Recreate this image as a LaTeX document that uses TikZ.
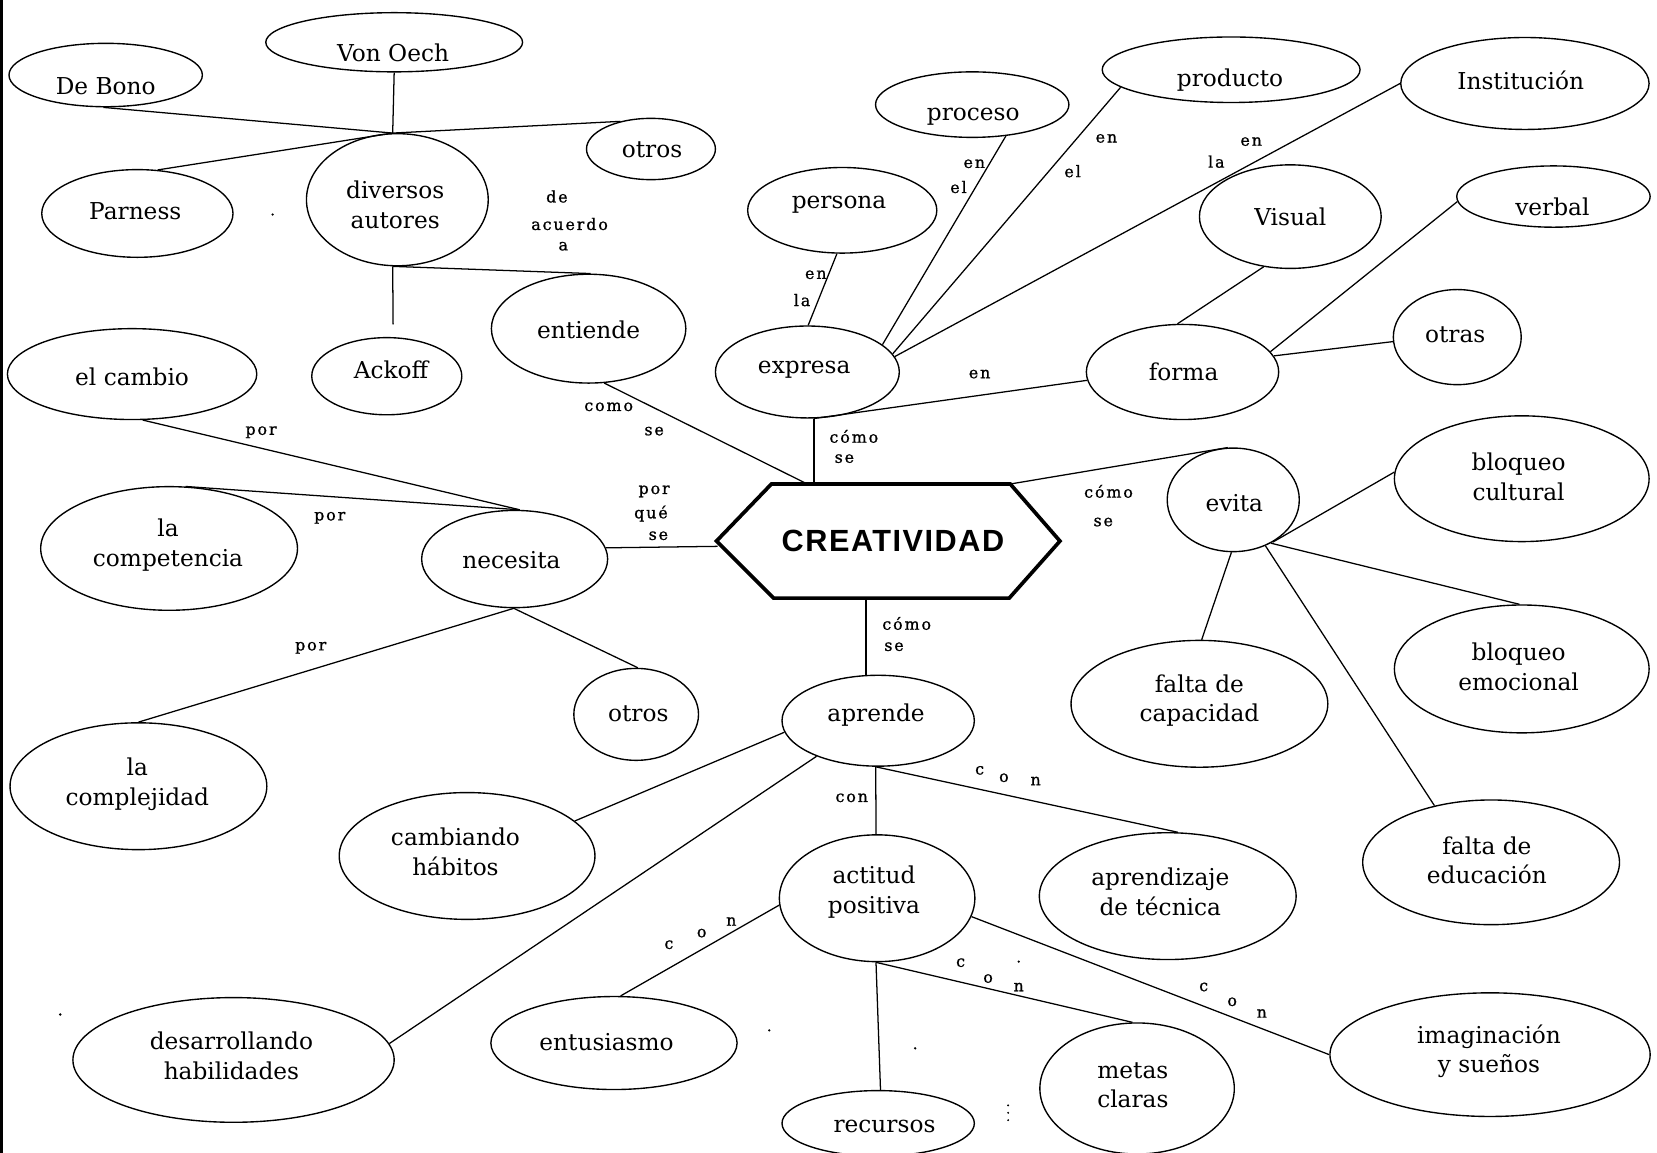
\documentclass[tikz,border=0pt]{standalone}
\usepackage{fontspec}
\setmainfont{DejaVu Serif}
\newfontfamily\labfont[LetterSpace=12,FakeBold=1]{DejaVu Serif}
\newfontfamily\titlefont[LetterSpace=5]{Liberation Sans}
\usetikzlibrary{shapes.geometric,calc}

% \bub{name}{cx}{cy}{width}{height}{text x}{text y}{text}
\newcommand\bub[8]{%
  \node[bubble,minimum width=#4pt,minimum height=#5pt] (#1) at (#2,#3) {};
  \node[word] (#1-t) at (#6,#7) {#8};}

\begin{document}
\begin{tikzpicture}[x=1pt,y=-1pt,
  bubble/.style={draw,ellipse,inner sep=0pt,line width=1.3pt},
  word/.style={font=\fontsize{22}{28}\selectfont,align=center,inner sep=0pt},
  lab/.style={font=\labfont\fontsize{15}{18}\selectfont,inner sep=0pt},
  link/.style={line width=1.2pt},
  speck/.style={fill=black}]
\useasboundingbox (0,0) rectangle (1568,1091);

% left margin rule
\draw[line width=2.4pt] (1.2,0) -- (1.2,1091);

% ---------- concept bubbles ----------
\bub{vonoech}{373}{40}{243}{56}{372}{50}{Von Oech}
\bub{debono}{100}{71}{183}{60}{100}{82}{De Bono}
\bub{otrosA}{616}{141}{122}{58}{617}{142}{otros}
\bub{parness}{130}{202}{181}{83}{128}{200}{Parness}
\bub{diversos}{376}{189}{172}{125}{374}{194}{diversos\\autores}
\bub{ackoff}{366}{356}{142}{73}{370}{350}{Ackoff}
\bub{entiende}{557}{311}{184}{103}{557}{312}{entiende}
\bub{cambio}{125}{354}{236}{86}{125}{357}{el cambio}
\bub{proceso}{920}{99}{183}{62}{921}{110}{proceso}
\bub{producto}{1165}{66}{244}{62}{1164}{76}{producto}
\bub{institucion}{1443}{79}{235}{87}{1439}{76}{Institución}
\bub{persona}{797}{199}{179}{81}{794}{194}{persona}
\bub{visual}{1221}{205}{172}{98}{1221}{205}{Visual}
\bub{verbal}{1470}{186}{183}{58}{1469}{196}{verbal}
\bub{otras}{1379}{319}{121}{90}{1377}{317}{otras}
\bub{expresa}{764}{352}{174}{87}{761}{350}{expresa}
\bub{forma}{1119}{352}{182}{90}{1120}{352}{forma}
\bub{evita}{1167}{473}{125}{98}{1168}{476}{evita}
\bub{bcultural}{1440}{453}{241}{119}{1437}{451}{bloqueo\\cultural}
\bub{necesita}{487}{529}{176}{92}{484}{530}{necesita}
\bub{competencia}{160}{519}{243}{117}{159}{516}{la\\competencia}
\bub{otrosB}{602}{676}{118}{87}{604}{675}{otros}
\bub{complejidad}{131}{744}{243}{120}{130}{742}{la\\complejidad}
\bub{aprende}{831}{682}{182}{86}{829}{677}{aprende}
\bub{fcapacidad}{1135}{666}{243}{120}{1135}{663}{falta de\\capacidad}
\bub{bemocional}{1440}{633}{241}{121}{1437}{631}{bloqueo\\emocional}
\bub{feducacion}{1411}{816}{243}{118}{1407}{814}{falta de\\educación}
\bub{cambiando}{442}{810}{242}{120}{431}{806}{cambiando\\hábitos}
\bub{actitud}{830}{850}{185}{120}{827}{844}{actitud\\positiva}
\bub{aprendizaje}{1105}{848}{243}{120}{1098}{844}{aprendizaje\\de técnica}
\bub{imaginacion}{1410}{998}{303}{117}{1409}{995}{imaginación\\y sueños}
\bub{desarrollando}{221}{1003}{304}{118}{219}{999}{desarrollando\\habilidades}
\bub{entusiasmo}{581}{987}{233}{88}{574}{986}{entusiasmo}
\bub{recursos}{831}{1063}{182}{62}{837}{1066}{recursos}
\bub{metas}{1076}{1030}{184}{124}{1072}{1027}{metas\\claras}

% ---------- central hexagon ----------
\node[font=\titlefont\bfseries\fontsize{29}{32}\selectfont,inner sep=0pt] (crea) at (845,512) {CREATIVIDAD};
\coordinate (hx1) at ($(crea)+(-167,0)$);
\coordinate (hx2) at ($(crea)+(-115,-54)$);
\coordinate (hx3) at ($(crea)+(111,-54)$);
\coordinate (hx4) at ($(crea)+(158,0)$);
\coordinate (hx5) at ($(crea)+(110,54)$);
\coordinate (hx6) at ($(crea)+(-113,54)$);
\draw[line width=3.5pt,line join=miter] (hx1) -- (hx2) -- (hx3) -- (hx4) -- (hx5) -- (hx6) -- cycle;
\coordinate (hxA) at ($(hx2)!0.15!(hx3)$);
\coordinate (hxN) at ($(hx1)+(1,5)$);

% ---------- connectors ----------
\draw[link] (debono.-94) -- (diversos.94);
\draw[link] (vonoech.south) -- (diversos.94);
\draw[link] (otrosA.138) -- (diversos.94);
\draw[link] (parness.65) -- (diversos.94);
\coordinate (ackTop) at ($(ackoff.north)+(6,-12)$);
\draw[link] (diversos.-94) -- (ackTop);
\draw[link] (diversos.-94) -- (entiende.88);
\draw[link] (entiende.-74) -- (hxA);

\coordinate (expB) at (expresa.-82);
\draw[link] (expB) -- (expB |- hx2);
\draw[link] (persona.-97) -- (expresa.89);
\draw[link] (proceso.-43) -- (expresa.20);
\draw[link] (producto.-171) -- (expresa.12);
\draw[link] (institucion.180) -- (expresa.10);
\draw[link] (expB) -- (forma.-175);
\draw[link] (visual.-118) -- (forma.96);
\draw[link] (verbal.183) -- (forma.13);
\draw[link] (otras.184) -- (forma.10);

\draw[link] (hx3) -- (evita.96);
\draw[link] (evita.-47) -- (bcultural.177);
\draw[link] (evita.-49) -- (bemocional.92);
\draw[link] (evita.-55) -- (feducacion.135);
\draw[link] (evita.-92) -- (fcapacidad.88);

\draw[link] (hxN) -- (necesita.7);
\draw[link] (cambio.-77) -- (necesita.84);
\draw[link] (competencia.75) -- (necesita.84);
\draw[link] (necesita.-91) -- (otrosB.88);
\draw[link] (necesita.-91) -- (complejidad.90);

\draw[link] (aprende.105 |- hx5) -- (aprende.105);
\draw[link] (aprende.-173) -- (cambiando.18);
\draw[link] (aprende.-150) -- (desarrollando.6);
\draw[link] (aprende.-93) -- (actitud.91);
\draw[link] (aprende.-93) -- (aprendizaje.81);
\draw[link] (actitud.-176) -- (entusiasmo.82);
\draw[link] (actitud.-91) -- (recursos.86);
\draw[link] (actitud.-91) -- (metas.94);
\draw[link] (actitud.-11) -- (imaginacion.180);

% ---------- linking words ----------
\node[lab] (l1) at (527,186) {de};
\node[lab] (l2) at (539,212) {acuerdo};
\node[lab] (l3) at (533,233) {a};
\node[lab] (l4) at (576,385) {como};
\node[lab] (l5) at (619,408) {se};
\node[lab] (l6) at (808,413) {cómo};
\node[lab] (l7) at (799,434) {se};
\node[lab] (l8) at (772,260) {en};
\node[lab] (l9) at (759,284) {la};
\node[lab] (l10) at (922,155) {en};
\node[lab] (l11) at (907,177) {el};
\node[lab] (l12) at (1047,131) {en};
\node[lab] (l13) at (1015,162) {el};
\node[lab] (l14) at (1184,134) {en};
\node[lab] (l15) at (1151,153) {la};
\node[lab] (l16) at (927,354) {en};
\node[lab] (l17) at (1049,465) {cómo};
\node[lab] (l18) at (1044,494) {se};
\node[lab] (l19) at (247,409) {por};
\node[lab] (l20) at (312,490) {por};
\node[lab] (l21) at (294,613) {por};
\node[lab] (l22) at (619,465) {por};
\node[lab] (l23) at (616,486) {qué};
\node[lab] (l24) at (623,507) {se};
\node[lab] (l25) at (858,590) {cómo};
\node[lab] (l26) at (846,612) {se};
\node[lab] (l27) at (806,755) {con};
\node[lab] (l28) at (927,729) {c};
\node[lab] (l29) at (950,736) {o};
\node[lab] (l30) at (980,739) {n};
\node[lab] (l31) at (633,894) {c};
\node[lab] (l32) at (664,883) {o};
\node[lab] (l33) at (692,872) {n};
\node[lab] (l34) at (909,911) {c};
\node[lab] (l35) at (935,926) {o};
\node[lab] (l36) at (964,934) {n};
\node[lab] (l37) at (1139,934) {c};
\node[lab] (l38) at (1166,948) {o};
\node[lab] (l39) at (1194,959) {n};

% ---------- stray print specks ----------
\fill[speck] (258,203) circle[radius=1.2pt];
\fill[speck] (57,960) circle[radius=1.2pt];
\fill[speck] (728,975) circle[radius=1.2pt];
\fill[speck] (866,992) circle[radius=1.2pt];
\fill[speck] (964,910) circle[radius=1.2pt];
\fill[speck] (954,1046) circle[radius=1pt];
\fill[speck] (954,1053) circle[radius=1pt];
\fill[speck] (954,1060) circle[radius=1pt];
\end{tikzpicture}
\end{document}
